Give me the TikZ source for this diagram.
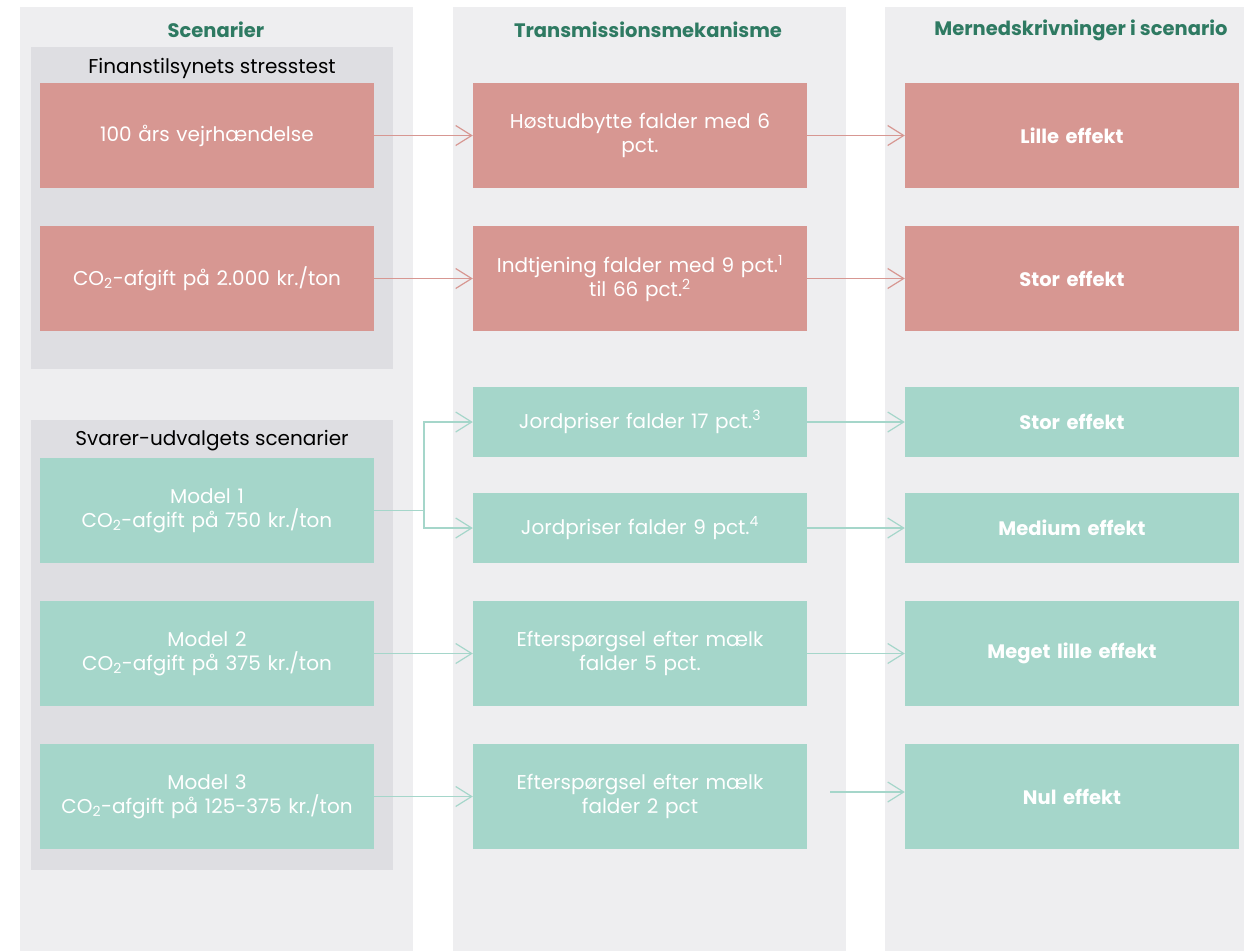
\documentclass[tikz,border=0pt]{standalone}
\usepackage{fontspec}
\setmainfont{Poppins}
\usetikzlibrary{arrows.meta, positioning}
\definecolor{colbg}{RGB}{238, 238, 240}
\definecolor{grpbg}{RGB}{222, 222, 226}
\definecolor{rosa}{RGB}{215, 151, 146}
\definecolor{mint}{RGB}{165, 214, 202}
\definecolor{hdrgreen}{RGB}{46, 122, 98}

\begin{document}
\begin{tikzpicture}[x=1pt, y=-1pt,
  box/.style={minimum width=334pt, minimum height=105pt, inner sep=0pt,
    text width=330pt, align=center, text=white, font=\fontsize{20}{24}\selectfont},
  redbox/.style={box, fill=rosa},
  greenbox/.style={box, fill=mint},
  effekt/.style={font=\fontsize{19.5}{24}\selectfont\bfseries},
  head/.style={font=\fontsize{19.5}{24}\selectfont\bfseries, text=hdrgreen},
  grplabel/.style={font=\fontsize{20}{24}\selectfont, text=black},
  redarr/.style={draw=rosa, line width=1.3pt,
    -{Straight Barb[length=16pt, width=20pt, line width=1.2pt]}},
  greenarr/.style={draw=mint, line width=1.3pt,
    -{Straight Barb[length=16pt, width=20pt, line width=1.2pt]}}]
  \useasboundingbox (0,0) rectangle (1244,951);

  % kolonner
  \fill[colbg] (20,7) rectangle (413,951);
  \fill[colbg] (453,7) rectangle (846,951);
  \fill[colbg] (885,7) rectangle (1244,951);

  % grupper
  \fill[grpbg] (31,47) rectangle (393,369);
  \fill[grpbg] (31,420) rectangle (393,870);

  % overskrifter
  \node[head] (h1) at (216,30) {Scenarier};
  \node[head] (h2) at (648,30) {Transmissionsmekanisme};
  \node[head] (h3) at (1081,30) {Mernedskrivninger i scenario};
  \node[grplabel] (g1) at (212,68) {Finanstilsynets stresstest};
  \node[grplabel] (g2) at (212,441) {Svarer-udvalgets scenarier};

  % scenarier
  \node[redbox] (s1) at (207,135.5) {100 års vejrhændelse};
  \node[redbox] (s2) at (207,278.5) {CO\textsubscript{2}-afgift på 2.000 kr./ton};
  \node[greenbox] (m1) at (207,510.5) {Model 1\\CO\textsubscript{2}-afgift på 750 kr./ton};
  \node[greenbox] (m2) at (207,653.5) {Model 2\\CO\textsubscript{2}-afgift på 375 kr./ton};
  \node[greenbox] (m3) at (207,796.5) {Model 3\\CO\textsubscript{2}-afgift på 125-375 kr./ton};

  % transmission
  \node[redbox] (t1) at (640,135.5) {Høstudbytte falder med 6\\pct.};
  \node[redbox] (t2) at (640,278.5) {Indtjening falder med 9 pct.\textsuperscript{1}\\til 66 pct.\textsuperscript{2}};
  \node[greenbox, minimum height=70pt] (t3) at (640,422) {Jordpriser falder 17 pct.\textsuperscript{3}};
  \node[greenbox, minimum height=70pt] (t4) at (640,528) {Jordpriser falder 9 pct.\textsuperscript{4}};
  \node[greenbox] (t5) at (640,653.5) {Efterspørgsel efter mælk\\falder 5 pct.};
  \node[greenbox] (t6) at (640,796.5) {Efterspørgsel efter mælk\\falder 2 pct};

  % effekter
  \node[redbox, effekt] (e1) at (1072,135.5) {Lille effekt};
  \node[redbox, effekt] (e2) at (1072,278.5) {Stor effekt};
  \node[greenbox, effekt, minimum height=70pt] (e3) at (1072,422) {Stor effekt};
  \node[greenbox, effekt, minimum height=70pt] (e4) at (1072,528) {Medium effekt};
  \node[greenbox, effekt] (e5) at (1072,653.5) {Meget lille effekt};
  \node[greenbox, effekt] (e6) at (1072,796.5) {Nul effekt};

  % pile
  \draw[redarr] (s1) -- (t1);
  \draw[redarr] (s2) -- (t2);
  \draw[redarr] (t1) -- (e1);
  \draw[redarr] (t2) -- (e2);
  \coordinate (split) at (424,510.5);
  \draw[mint, line width=1.3pt] (m1.east) -- (split);
  \draw[greenarr] (split) |- (t3.west);
  \draw[greenarr] (split) |- (t4.west);
  \draw[greenarr] (m2) -- (t5);
  \draw[greenarr] (m3) -- (t6);
  \draw[greenarr] (t3) -- (e3);
  \draw[greenarr] (t4) -- (e4);
  \draw[greenarr] (t5) -- (e5);
  \coordinate (nulstart) at (830,792);
  \draw[greenarr] (nulstart) -- (e6.west |- nulstart);
\end{tikzpicture}
\end{document}
